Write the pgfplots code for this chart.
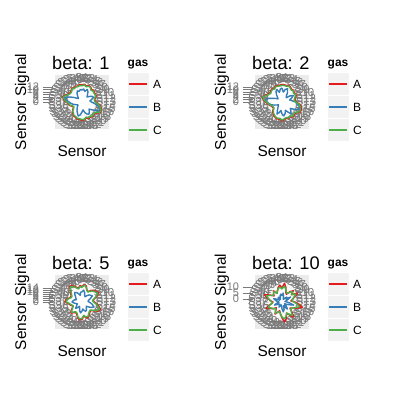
\documentclass[border=0pt]{standalone}
\usepackage{pgfplots}
\pgfplotsset{compat=1.18}
\usepackage{pgfplotstable}
\usepgfplotslibrary{polar}
\usepackage{fontspec}
\setmainfont{Liberation Sans}
\definecolor{gasA}{HTML}{E41A1C}
\definecolor{gasB}{HTML}{377EB8}
\definecolor{gasC}{HTML}{4DAF4A}
\definecolor{panelbg}{HTML}{EBEBEB}
\definecolor{axtext}{HTML}{7A7A7A}
\definecolor{tickgray}{HTML}{7A7A7A}
\definecolor{keybg}{HTML}{F2F2F2}

% ang = position of the sensor on the circle (degrees); A B C = Sensor Signal
\pgfplotstableread{
ang A B C
90 13.7 9.6 13.0
82.5 14.3 10.4 13.9
75 13.4 8.8 12.6
67.5 14.2 10.8 13.7
60 13.9 9.6 13.5
52.5 12.5 7.2 11.8
45 13.3 5.6 12.5
37.5 12.4 7.2 11.9
30 12.6 9.2 12.1
22.5 12.2 10.0 11.5
15 10.8 8.0 10.2
7.5 10.3 6.4 9.9
0 11.2 7.6 10.5
352.5 13.6 10.4 13.1
345 15.6 13.6 14.9
337.5 17.0 16.0 16.5
330 16.8 14.4 16.3
322.5 14.5 10.4 13.9
315 13.6 8.0 12.9
307.5 14.6 9.6 14.1
300 13.6 11.2 13.1
292.5 14.4 10.4 13.7
285 13.1 8.8 12.5
277.5 14.3 6.4 13.9
270 14.8 8.0 14.1
262.5 14.0 10.4 13.5
255 14.3 11.6 13.7
247.5 13.3 9.6 12.7
240 13.1 8.0 12.5
232.5 12.1 6.4 11.5
225 10.9 5.2 10.3
217.5 8.9 4.0 8.3
210 8.1 4.4 7.5
202.5 8.7 5.6 8.1
195 10.5 7.2 9.9
187.5 11.0 8.8 10.5
180 12.9 10.4 12.3
172.5 14.7 12.8 14.1
165 16.2 14.4 15.7
157.5 14.5 10.4 13.9
150 12.7 7.2 12.1
142.5 12.0 4.8 11.5
135 12.3 4.0 11.7
127.5 13.7 5.6 13.1
120 12.9 8.0 12.3
112.5 13.5 9.6 12.9
105 13.2 8.8 12.7
97.5 13.9 10.0 13.3
90 13.7 9.6 13.0
}\tabOne

\pgfplotstableread{
ang A B C
90 14.0 11.2 13.3
82.5 13.9 8.0 13.4
75 13.7 10.4 13.0
67.5 14.5 11.6 13.9
60 13.6 8.8 13.0
52.5 12.8 5.6 12.1
45 13.1 4.8 12.6
37.5 12.3 8.0 11.6
30 12.8 10.4 12.3
22.5 12.0 8.4 11.3
15 11.0 6.4 10.4
7.5 10.4 8.0 9.7
0 11.4 10.8 10.9
352.5 14.3 12.0 13.6
345 15.9 14.4 15.3
337.5 16.6 15.2 16.0
330 16.5 12.0 15.9
322.5 14.2 8.4 13.5
315 13.9 10.0 13.4
307.5 15.0 12.0 14.3
300 13.4 9.2 12.8
292.5 14.4 7.2 13.9
285 13.6 9.6 12.9
277.5 14.1 11.2 13.6
270 15.1 9.6 14.4
262.5 13.8 6.8 13.2
255 14.1 8.8 13.4
247.5 13.6 10.4 13.1
240 12.8 7.2 12.1
232.5 11.8 5.2 11.2
225 10.6 4.0 9.9
217.5 8.6 3.6 8.0
210 8.5 4.8 7.9
202.5 8.9 6.4 8.3
195 10.3 8.8 9.6
187.5 11.4 10.4 10.9
180 13.4 12.0 12.7
172.5 15.2 13.6 14.6
165 16.4 11.2 15.9
157.5 14.2 7.6 13.5
150 12.9 5.6 12.3
142.5 11.9 4.0 11.3
135 12.8 4.8 12.1
127.5 13.4 7.2 12.8
120 12.6 9.6 11.9
112.5 13.8 10.8 13.2
105 13.6 8.0 13.1
97.5 13.6 10.4 12.9
90 14.0 11.2 13.3
}\tabTwo

\pgfplotstableread{
ang A B C
90 15.5 10 14.5
82.5 18 12 17
75 16.5 10 15.5
67.5 13 7 12.5
60 12 6 11.5
52.5 14.5 8 13.5
45 16.5 10 15.5
37.5 17.5 11 16.5
30 19 12 18
22.5 16.5 9 15.5
15 13 7 12.5
7.5 11 6 10.5
0 12.5 7 11.5
352.5 15 9 14
345 17.5 11 16.5
337.5 20 13 19
330 18.5 11 17.5
322.5 14.5 8 13.5
315 12 6 11.5
307.5 13 7 12
300 14.5 9 13.5
292.5 16.5 10 15.5
285 16.5 9 15.5
277.5 14 7 13.5
270 17.5 9 16.5
262.5 18 11 17
255 16.5 9 15.5
247.5 13.5 6 12.5
240 12.5 5 11.5
232.5 13.5 7 12.5
225 15.5 9 14.5
217.5 13.5 7 12.5
210 11 6 10.5
202.5 10 5 9.5
195 12 6 11
187.5 13.5 8 12.5
180 17 10 16
172.5 16.5 9 15.5
165 14 8 13.5
157.5 12.5 6 11.5
150 12.5 7 11.5
142.5 14.5 8 13.5
135 16.5 10 15.5
127.5 20 12 19
120 19 11 18
112.5 16.5 9 15.5
105 14 7 13.5
97.5 16.5 10 15.5
90 15.5 10 14.5
}\tabFive

\pgfplotstableread{
ang A B C
90 9.2 2.5 8.3
82.5 13.3 5.0 10.8
75 10.0 2.5 9.2
67.5 5.8 0.0 6.7
60 5.0 0.0 5.8
52.5 8.3 1.7 7.5
45 10.8 3.3 10.0
37.5 7.5 1.7 7.5
30 12.5 5.8 10.8
22.5 9.2 2.5 8.3
15 6.7 0.8 6.7
7.5 5.0 0.0 5.8
0 8.3 1.7 7.5
352.5 11.7 4.2 10.0
345 15.0 7.5 12.5
337.5 10.8 3.3 10.0
330 7.5 0.8 7.5
322.5 5.8 0.0 6.7
315 9.2 2.5 8.3
307.5 13.3 5.0 11.7
300 10.0 2.5 9.2
292.5 7.5 0.8 7.5
285 11.7 4.2 10.0
277.5 14.2 5.8 11.7
270 10.8 3.3 10.0
262.5 7.5 0.8 7.5
255 5.0 0.0 5.8
247.5 6.7 0.8 6.7
240 9.2 2.5 8.3
232.5 5.8 0.8 6.7
225 4.2 0.0 5.0
217.5 6.7 0.8 6.7
210 8.3 1.7 7.5
202.5 11.7 4.2 10.0
195 9.2 2.5 8.3
187.5 5.8 0.0 5.8
180 5.0 0.0 5.8
172.5 7.5 1.7 7.5
165 10.0 3.3 9.2
157.5 13.3 5.0 11.7
150 9.2 1.7 8.3
142.5 5.8 0.0 6.7
135 7.5 1.7 7.5
127.5 9.2 2.5 8.3
120 5.8 0.0 5.8
112.5 7.5 1.7 7.5
105 10.0 3.3 9.2
97.5 11.7 4.2 10.0
90 9.2 2.5 8.3
}\tabTen

\pgfplotsset{
  radar/.style={
    scale only axis, width=48bp, height=48bp, anchor=center,
    xmin=0, xmax=360, ymin=0,
    xtick={0,7.5,...,352.5},
    xticklabels={S13,S12,S11,S10,S9,S8,S7,S6,S5,S4,S3,S2,S1,S48,S47,S46,S45,S44,S43,S42,S41,S40,S39,S38,S37,S36,S35,S34,S33,S32,S31,S30,S29,S28,S27,S26,S25,S24,S23,S22,S21,S20,S19,S18,S17,S16,S15,S14},
    xticklabel style={font=\fontsize{11.5}{12}\selectfont, text=axtext, anchor=center, inner sep=0pt},
    yticklabels={},
    axis line style={draw=none},
    xtick style={draw=none}, ytick style={draw=none},
    xmajorgrids, ymajorgrids,
    major grid style={white, line width=0.9bp},
    clip=false,
    /pgf/number format/assume math mode=true,
  },
  raxis/.style={
    scale only axis, width=56bp, height=54bp, anchor=south west,
    xmin=0, xmax=1,
    axis x line=none, axis y line*=left, y axis line style={draw=none},
    tick align=outside, major tick length=10bp,
    ytick style={draw=tickgray, line width=0.7bp},
    yticklabel style={font=\fontsize{11}{12}\selectfont, text=axtext},
    /pgf/number format/assume math mode=true,
  },
  sA/.style={color=gasA, line width=1.4bp, line join=round},
  sB/.style={color=gasB, line width=1.4bp, line join=round},
  sC/.style={color=gasC, line width=1.4bp, line join=round},
}

\newcommand{\key}[5]{% dx, dy, ycenter, colour, label
  \fill[keybg] ({127.5+#1},{#3+10.75-#2}) rectangle ({148.5+#1},{#3-10.75-#2});
  \draw[color=#4, line width=1.6bp] ({129.3+#1},{#3-#2}) -- ({146.7+#1},{#3-#2});
  \node[anchor=base west, inner sep=0pt, font=\fontsize{12}{14}\selectfont] at ({153+#1},{#3-4.6-#2}) {#5};
}
\newcommand{\deco}[3]{%
  \fill[panelbg] ({55+#1},{325-#2}) rectangle ({109+#1},{271-#2});
  \node[anchor=base west, inner sep=0pt, font=\fontsize{18.3}{20}\selectfont] at ({52+#1},{331-#2}) {#3};
  \node[anchor=base, inner sep=0pt, font=\fontsize{15.5}{17}\selectfont] at ({82+#1},{243.5-#2}) {Sensor};
  \node[rotate=90, anchor=base, inner sep=0pt, font=\fontsize{15.5}{17}\selectfont] at ({26+#1},{298-#2}) {Sensor Signal};
  \node[anchor=base west, inner sep=0pt, font=\bfseries\fontsize{12}{14}\selectfont] at ({127.5+#1},{333.5-#2}) {gas};
  \key{#1}{#2}{316}{gasA}{A}
  \key{#1}{#2}{293}{gasB}{B}
  \key{#1}{#2}{270}{gasC}{C}
}

\begin{document}
\begin{tikzpicture}[x=1bp, y=1bp]
\fill[white] (0,0) rectangle (400,400);
\path[use as bounding box] (0,0) rectangle (400,400);

% ---------- beta: 1 ----------
\deco{0}{0}{beta: 1}
\begin{polaraxis}[radar, at={(82bp,298bp)}, ymax=19.2, ytick={2,4,...,12}]
  \addplot[sA] table[x=ang, y=A] {\tabOne};
  \addplot[sB] table[x=ang, y=B] {\tabOne};
  \addplot[sC] table[x=ang, y=C] {\tabOne};
\end{polaraxis}
\begin{axis}[raxis, at={(52.5bp,271bp)}, ymin=-21.6, ymax=21.6, ytick={0,2,...,12}]
  \addplot[draw=none] coordinates {(0.5,0)};
\end{axis}

% ---------- beta: 2 ----------
\deco{200}{0}{beta: 2}
\begin{polaraxis}[radar, at={(282bp,298bp)}, ymax=19.2, ytick={2,4,...,12}]
  \addplot[sA] table[x=ang, y=A] {\tabTwo};
  \addplot[sB] table[x=ang, y=B] {\tabTwo};
  \addplot[sC] table[x=ang, y=C] {\tabTwo};
\end{polaraxis}
\begin{axis}[raxis, at={(252.5bp,271bp)}, ymin=-21.6, ymax=21.6, ytick={0,2,...,12}]
  \addplot[draw=none] coordinates {(0.5,0)};
\end{axis}

% ---------- beta: 5 ----------
\deco{0}{200}{beta: 5}
\begin{polaraxis}[radar, at={(82bp,98bp)}, ymax=24, ytick={2,4,...,14}]
  \addplot[sA] table[x=ang, y=A] {\tabFive};
  \addplot[sB] table[x=ang, y=B] {\tabFive};
  \addplot[sC] table[x=ang, y=C] {\tabFive};
\end{polaraxis}
\begin{axis}[raxis, at={(52.5bp,71bp)}, ymin=-27, ymax=27, ytick={0,2,...,14}]
  \addplot[draw=none] coordinates {(0.5,0)};
\end{axis}

% ---------- beta: 10 ----------
\deco{200}{200}{beta: 10}
\begin{polaraxis}[radar, at={(282bp,98bp)}, ymax=20, ytick={2.5,7.5,12.5}, y filter/.expression={y+2.5}]
  \addplot[sA] table[x=ang, y=A] {\tabTen};
  \addplot[sB] table[x=ang, y=B] {\tabTen};
  \addplot[sC] table[x=ang, y=C] {\tabTen};
\end{polaraxis}
\begin{axis}[raxis, at={(252.5bp,71bp)}, ymin=-25, ymax=20, ytick={0,5,10}]
  \addplot[draw=none] coordinates {(0.5,0)};
\end{axis}

\end{tikzpicture}
\end{document}
